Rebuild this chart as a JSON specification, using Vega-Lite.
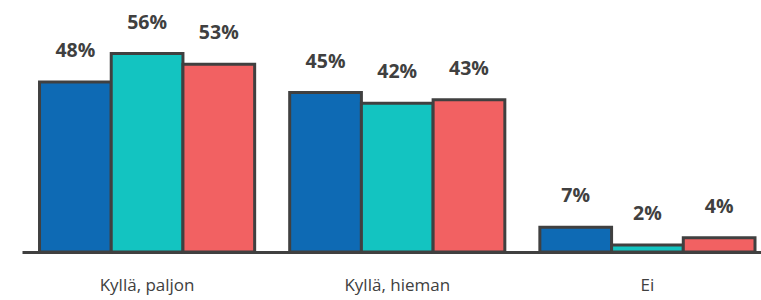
{
  "$schema": "https://vega.github.io/schema/vega-lite/v6.json",
  "width": 739,
  "height": 248,
  "padding": {"left": 22, "top": 4, "right": 0, "bottom": 8},
  "autosize": {"type": "pad"},
  "background": "white",
  "config": {"view": {"stroke": null}},
  "data": {"values": [
    {"ryhma": "Kyllä, paljon", "sarja": "A", "arvo": 0.48},
    {"ryhma": "Kyllä, paljon", "sarja": "B", "arvo": 0.56},
    {"ryhma": "Kyllä, paljon", "sarja": "C", "arvo": 0.53},
    {"ryhma": "Kyllä, hieman", "sarja": "A", "arvo": 0.45},
    {"ryhma": "Kyllä, hieman", "sarja": "B", "arvo": 0.42},
    {"ryhma": "Kyllä, hieman", "sarja": "C", "arvo": 0.43},
    {"ryhma": "Ei", "sarja": "A", "arvo": 0.07},
    {"ryhma": "Ei", "sarja": "B", "arvo": 0.02},
    {"ryhma": "Ei", "sarja": "C", "arvo": 0.04}
  ]},
  "encoding": {
    "x": {"field": "ryhma", "type": "nominal", "sort": null,
      "scale": {"paddingInner": 0.14, "paddingOuter": 0.047, "align": 0.745},
      "axis": {"title": null, "labelAngle": 0, "ticks": false, "domainColor": "#404040", "domainWidth": 3,
        "labelFont": "Open Sans", "labelFontSize": 17, "labelColor": "#404040", "labelPadding": 25}},
    "xOffset": {"field": "sarja", "type": "nominal", "scale": {"paddingInner": 0, "paddingOuter": 0}},
    "y": {"field": "arvo", "type": "quantitative", "scale": {"domain": [0, 0.7]}, "axis": null}
  },
  "layer": [
    {"mark": {"type": "bar", "stroke": "#404040", "strokeWidth": 3},
     "encoding": {"color": {"field": "sarja", "type": "nominal", "legend": null,
       "scale": {"domain": ["A", "B", "C"], "range": ["#0E6AB4", "#13C4C1", "#F26162"]}}}},
    {"mark": {"type": "text", "baseline": "bottom", "dy": -21, "font": "Open Sans", "fontWeight": "bold", "fontSize": 19.5, "fill": "#404040"},
     "encoding": {"text": {"field": "arvo", "type": "quantitative", "format": ".0%"}}}
  ]
}
